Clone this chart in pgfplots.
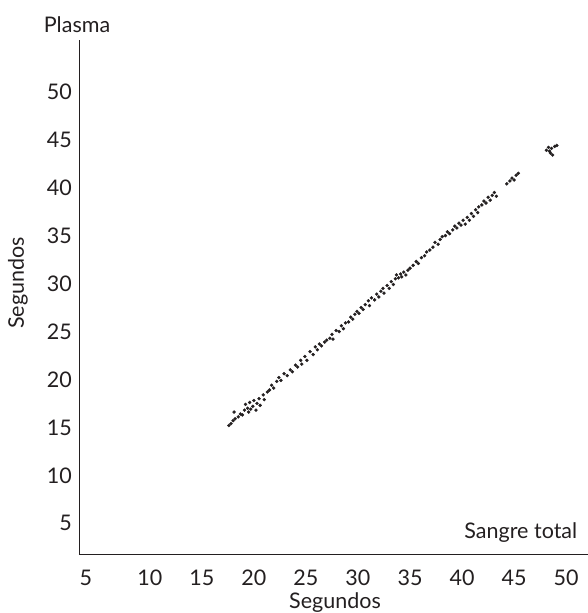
\documentclass[border=0pt]{standalone}
\usepackage{fontspec}
\setmainfont{Lato}
\usepackage{pgfplots}
\pgfplotsset{compat=1.18}
\definecolor{ink}{HTML}{231F20}
\begin{document}
\begin{tikzpicture}
\begin{axis}[
  scale only axis,
  width=509bp, height=514bp,
  at={(0,0)}, anchor=south west,
  xmin=3.2, xmax=52.1, ymin=1.8, ymax=55.4,
  axis x line=bottom, axis y line=left,
  axis line style={-, draw=ink, line width=0.9bp},
  xtick={3.85,10,15,20,25,30,35,40,45,50},
  xticklabels={5,10,15,20,25,30,35,40,45,50},
  ytick={5,10,15,20,25,30,35,40,45,50},
  major tick length=0pt,
  /pgf/number format/assume math mode=true,
  tick label style={font=\fontsize{21.5bp}{24bp}\selectfont, text=ink},
  xticklabel style={anchor=base, inner sep=0pt, yshift=-31bp},
  yticklabel style={anchor=east, inner sep=0pt, xshift=-7bp},
  label style={font=\fontsize{21.5bp}{24bp}\selectfont, text=ink},
  xlabel={Segundos},
  xlabel style={at={(axis description cs:0.503,-0.0953)}, anchor=center},
  ylabel={Segundos},
  ylabel style={at={(axis description cs:-0.1198,0.527)}, anchor=center, rotate=0},
  clip=false,
]
\addplot[only marks, mark=*, mark size=1.5bp, color=ink] coordinates {
(17.6,15.2)(17.8,15.4)(18.0,15.7)(18.2,15.9)(18.1,16.6)(18.5,16.1)(18.7,16.4)(18.9,16.3)
(19.1,16.8)(19.2,17.4)(19.4,17.0)(19.5,16.6)(19.6,17.6)(19.7,16.9)(19.9,17.2)(20.0,17.8)
(20.2,16.8)(20.3,17.5)(20.5,18.0)(20.6,17.3)(20.9,18.4)(21.0,17.9)(21.3,18.7)(21.5,18.9)
(21.7,19.4)(21.9,19.1)(22.2,19.8)(22.4,20.2)(22.6,19.9)(22.9,20.6)(23.2,20.4)(23.5,21.0)
(23.7,20.8)(24.0,21.5)(24.2,21.3)(24.5,22.0)(24.6,21.6)(24.9,22.4)(25.1,22.0)(25.4,22.9)
(25.7,22.6)(25.9,23.4)(26.1,23.1)(26.3,23.7)(26.5,23.5)(26.8,23.9)(27.0,24.1)(27.3,24.3)
(27.5,24.7)(27.6,24.2)(27.9,25.1)(28.2,25.0)(28.4,25.6)(28.6,25.3)(28.8,25.9)(29.1,26.0)
(29.3,26.5)(29.5,26.3)(29.7,26.8)(29.9,27.1)(30.1,26.9)(30.3,27.5)(30.5,27.3)(30.7,27.8)
(31.0,28.2)(31.1,27.7)(31.3,28.5)(31.6,28.3)(31.8,28.9)(32.0,28.6)(32.2,29.2)(32.4,29.5)
(32.5,29.0)(32.8,29.8)(33.0,29.5)(33.2,30.2)(33.4,29.9)(33.6,30.5)(33.7,30.9)(33.9,30.6)
(34.1,31.0)(34.2,30.7)(34.4,31.2)(34.6,30.9)(34.8,31.4)(35.0,31.6)(35.3,31.9)(35.6,32.3)
(35.8,32.1)(36.1,32.7)(36.4,32.9)(36.6,33.3)(36.9,33.5)(37.2,33.8)(37.4,34.3)(37.7,34.1)
(37.9,34.6)(38.1,34.9)(38.4,35.0)(38.6,35.4)(38.8,35.2)(39.1,35.6)(39.3,36.0)(39.5,35.8)
(39.7,36.3)(39.9,36.1)(40.1,36.6)(40.3,36.2)(40.5,36.9)(40.7,36.6)(40.9,37.3)(41.1,37.0)
(41.3,37.7)(41.5,37.4)(41.6,38.0)(41.9,38.2)(42.1,38.6)(42.3,38.4)(42.5,39.0)(42.7,38.7)
(42.9,39.2)(43.1,39.5)(43.3,39.1)(44.3,40.4)(44.6,40.7)(44.8,41.0)(45.0,40.8)(45.2,41.3)
(45.4,41.5)
(48.1,43.9)(48.3,44.2)(48.5,43.6)(48.6,44.1)(48.7,43.4)(48.9,44.3)(49.1,44.4)(48.4,43.8)
};
\node[font=\fontsize{21.5bp}{24bp}\selectfont, text=ink, anchor=center] at (axis description cs:-0.0039,1.029) {Plasma};
\node[font=\fontsize{21.5bp}{24bp}\selectfont, text=ink, anchor=center] at (axis description cs:0.868,0.041) {Sangre total};
\end{axis}
\pgfresetboundingbox
\path[use as bounding box] (-79bp,-59bp) rectangle (509bp,554bp);
\end{tikzpicture}
\end{document}
